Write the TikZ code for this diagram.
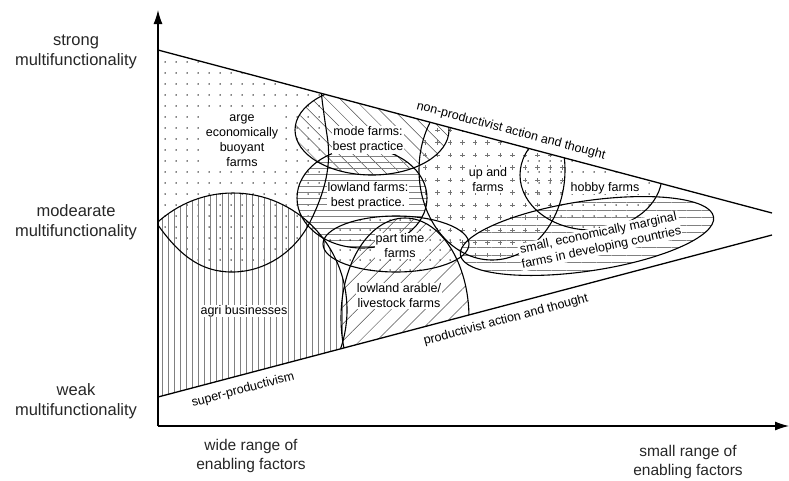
\documentclass[tikz,border=0pt]{standalone}
\usepackage{fontspec}
\setmainfont{Liberation Sans}
\usetikzlibrary{arrows.meta, patterns, patterns.meta}

\pgfdeclarepatternformonly{plusmarks}{\pgfqpoint{-3pt}{-3pt}}{\pgfqpoint{3pt}{3pt}}{\pgfqpoint{12.5pt}{12.5pt}}{%
\pgfsetlinewidth{0.5pt}
\pgfpathmoveto{\pgfqpoint{-2.2pt}{0pt}}\pgfpathlineto{\pgfqpoint{2.2pt}{0pt}}
\pgfpathmoveto{\pgfqpoint{0pt}{-2.2pt}}\pgfpathlineto{\pgfqpoint{0pt}{2.2pt}}
\pgfusepath{stroke}}

\begin{document}
\begin{tikzpicture}[
x=1pt, y=-1pt,
zone/.style={line width=1.1pt},
edge/.style={line width=1.3pt},
lbl/.style={font=\fontsize{12.5}{15}\selectfont, align=center, fill=white, inner sep=0.6pt},
linelbl/.style={font=\fontsize{12.5}{15}\selectfont, inner sep=0pt},
side/.style={font=\fontsize{16.5}{20}\selectfont, align=center, text=black!85},
foot/.style={font=\fontsize{15.5}{19}\selectfont, align=center, text=black!85},
axis/.style={line width=1.2pt, -{Latex[length=14pt, width=9pt]}}
]
\useasboundingbox (0,0) rectangle (789,480);

\coordinate (origin) at (158,426);
\coordinate (ytip) at (158,10);
\coordinate (xtip) at (789,426);
\coordinate (tl) at (158,50);
\coordinate (tr) at (772,213);
\coordinate (bl) at (158,397);
\coordinate (br) at (772,235);

% farm types
\begin{scope}
\clip (tl) -- (tr) -- (br) -- (bl) -- cycle;
\fill[pattern={Dots[distance=11pt, radius=0.75pt]}] (145,205) .. controls (175,255) and (200,272) .. (232,272)
  .. controls (265,272) and (295,252) .. (310,222) .. controls (325,192) and (332,165) .. (327,135)
  .. controls (324,115) and (321,95) .. (318,60) -- (140,30) -- cycle;
\fill[pattern={Lines[angle=90, distance=6pt, line width=0.5pt]}, pattern color=gray] (233,310) ellipse [x radius=114pt, y radius=117pt];
\fill[pattern={Lines[angle=-45, distance=10pt, line width=0.5pt]}, pattern color=black!70] (372,130) ellipse [x radius=77pt, y radius=45pt];
\fill[pattern={Lines[angle=0, distance=6pt, line width=0.5pt]}, pattern color=gray] (362,198) ellipse [x radius=65pt, y radius=50pt];
\fill[pattern={Dots[distance=10pt, radius=0.75pt]}] (396,244) ellipse [x radius=73pt, y radius=28pt];
\fill[pattern={Lines[angle=45, distance=12pt, line width=0.5pt]}, pattern color=black!70] (405,318) ellipse [x radius=64pt, y radius=100pt];
\fill[pattern=plusmarks, pattern color=black!55] (492,170) ellipse [x radius=73pt, y radius=90pt];
\fill[pattern={Dots[distance=11pt, radius=0.75pt]}] (591,175) ellipse [x radius=71pt, y radius=55pt];
\fill[pattern={Lines[angle=0, distance=7.5pt, line width=0.5pt]}, pattern color=gray, rotate around={8.5:(587,236)}] (587,236) ellipse [x radius=128pt, y radius=35pt];

\draw[zone] (145,205) .. controls (175,255) and (200,272) .. (232,272)
  .. controls (265,272) and (295,252) .. (310,222) .. controls (325,192) and (332,165) .. (327,135)
  .. controls (324,115) and (321,95) .. (318,60);
\draw[zone] (233,310) ellipse [x radius=114pt, y radius=117pt];
\draw[zone] (372,130) ellipse [x radius=77pt, y radius=45pt];
\draw[zone] (362,198) ellipse [x radius=65pt, y radius=50pt];
\draw[zone] (396,244) ellipse [x radius=73pt, y radius=28pt];
\draw[zone] (405,318) ellipse [x radius=64pt, y radius=100pt];
\draw[zone] (492,170) ellipse [x radius=73pt, y radius=90pt];
\draw[zone] (591,175) ellipse [x radius=71pt, y radius=55pt];
\draw[zone, rotate around={8.5:(587,236)}] (587,236) ellipse [x radius=128pt, y radius=35pt];
\end{scope}

\draw[edge] (tl) -- (tr);
\draw[edge] (bl) -- (br);
\draw[axis] (origin) -- (ytip);
\draw[axis] (origin) -- (xtip);

\node[lbl] (arge) at (242,141) {arge\\economically\\buoyant\\farms};
\node[lbl] (mode) at (368,140) {mode farms:\\best practice};
\node[lbl] (lowland) at (368,196) {lowland farms:\\best practice.};
\node[lbl] (parttime) at (400,246) {part time\\farms};
\node[lbl] (arable) at (399,296) {lowland arable/\\livestock farms};
\node[lbl] (agri) at (244,311) {agri businesses};
\node[lbl] (upand) at (488,180) {up and\\farms};
\node[lbl] (hobby) at (605,188) {hobby farms};
\node[lbl, rotate=12] (small) at (600,241) {small, economically marginal\\farms in developing countries};

\node[linelbl, rotate=-14.87] (nonprod) at (511,131) {non-productivist action and thought};
\node[linelbl, rotate=14.87] (prod) at (506,320) {productivist action and thought};
\node[linelbl, rotate=14.87] (superprod) at (243,390) {super-productivism};

\node[side] (strong) at (76,52) {strong\\multifunctionality};
\node[side] (moderate) at (76,222) {modearate\\multifunctionality};
\node[side] (weak) at (76,401) {weak\\multifunctionality};
\node[foot] (wide) at (251,456) {wide range of\\enabling factors};
\node[foot] (narrow) at (688,462) {small range of\\enabling factors};
\end{tikzpicture}
\end{document}
